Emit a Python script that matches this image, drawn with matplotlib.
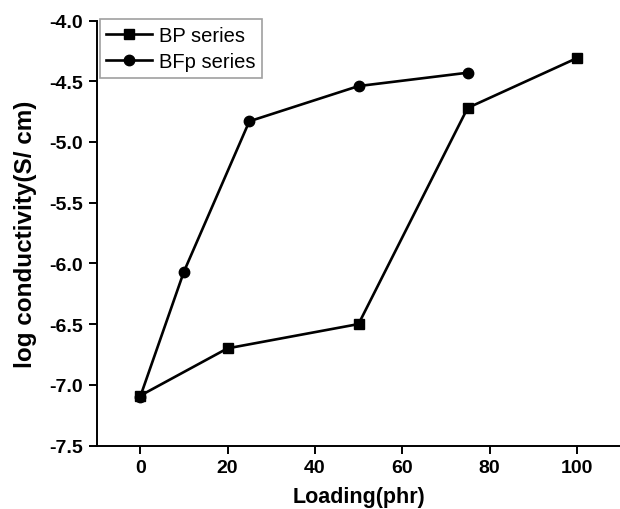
import matplotlib
matplotlib.use("Agg")
import matplotlib.pyplot as plt

plt.rcParams['font.family'] = ['Liberation Sans', 'DejaVu Sans']
plt.rcParams['axes.unicode_minus'] = False

bp_x = [0, 20, 50, 75, 100]
bp_y = [-7.09, -6.70, -6.50, -4.72, -4.31]
bfp_x = [0, 10, 25, 50, 75]
bfp_y = [-7.10, -6.07, -4.83, -4.54, -4.43]
x_ticks = [0, 20, 40, 60, 80, 100]
y_ticks = [-7.5, -7.0, -6.5, -6.0, -5.5, -5.0, -4.5, -4.0]

fig = plt.figure(figsize=(6.2, 5.1), dpi=100)
ax = fig.add_axes([96.5/620, 63.5/510, 524/620, 425/510])

ax.plot(bp_x, bp_y, color='black', lw=1.9, marker='s', ms=7, label='BP series')
ax.plot(bfp_x, bfp_y, color='black', lw=1.9, marker='o', ms=7.5, label='BFp series')

ax.set_xlim(-10, 110)
ax.set_ylim(-7.5, -4.0)
ax.set_xticks(x_ticks)
ax.set_yticks(y_ticks)
ax.set_yticklabels([f"{v:.1f}" for v in y_ticks])
for s in ['top', 'right']:
    ax.spines[s].set_visible(False)
for s in ['left', 'bottom']:
    ax.spines[s].set_linewidth(1.4)
ax.tick_params(direction='out', length=5.5, width=1.4, labelsize=14, pad=4)
for lab in ax.get_xticklabels() + ax.get_yticklabels():
    lab.set_fontweight('bold')

ax.set_xlabel('Loading(phr)', fontsize=15.5, fontweight='bold', labelpad=7.5)
ax.set_ylabel('log conductivity(S/ cm)', fontsize=17.5, fontweight='bold', labelpad=9)

leg = ax.legend(loc='upper left', bbox_to_anchor=(0.006, 1.003), fontsize=14.5,
                frameon=True, fancybox=False, edgecolor='#888888',
                handlelength=2.3, handletextpad=0.35, borderpad=0.32,
                labelspacing=0.38, borderaxespad=0.0)
leg.get_frame().set_linewidth(1.2)

fig.savefig('out.png', dpi=100)
